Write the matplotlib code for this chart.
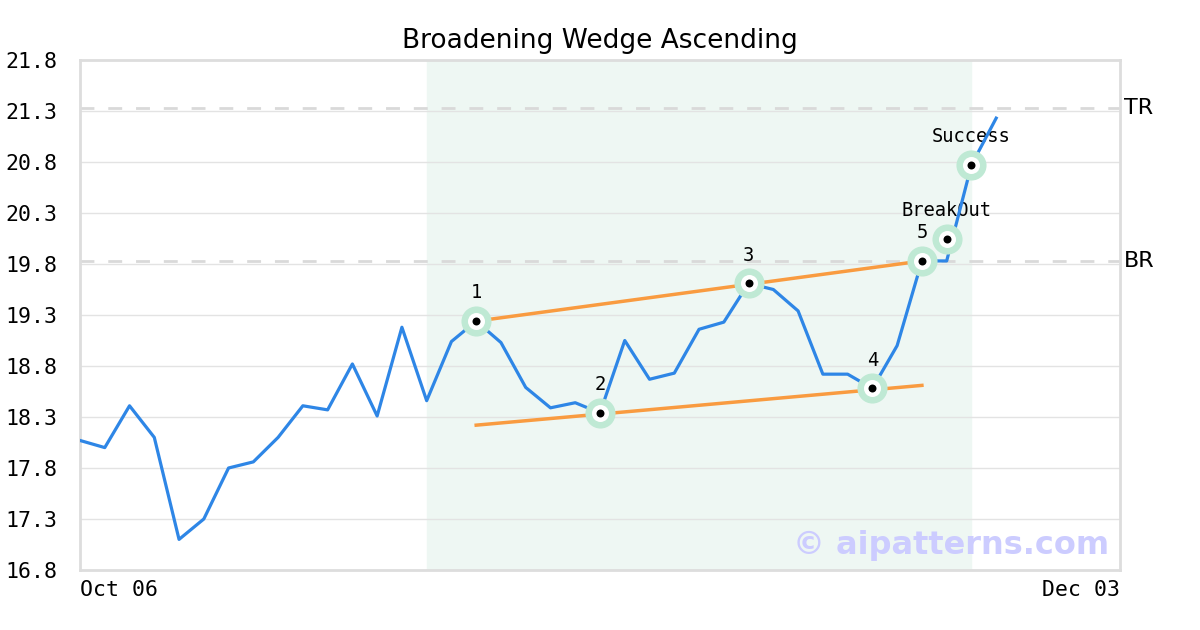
import numpy as np
import matplotlib.pyplot as plt

# price series (one value per trading day, Oct 06 .. Dec 03 axis spans 43 slots)
prices = [18.07, 18.00, 18.41, 18.10, 17.10, 17.30, 17.80, 17.86, 18.10, 18.41,
          18.37, 18.82, 18.31, 19.18, 18.46, 19.04, 19.24, 19.03, 18.59, 18.39,
          18.44, 18.34, 19.05, 18.67, 18.73, 19.16, 19.23, 19.61, 19.55, 19.34,
          18.72, 18.72, 18.58, 19.00, 19.83, 19.83, 20.77, 21.23]
n_slots = 43
date_labels = ["Oct 06", "Dec 03"]

# pattern points
pivot_idx = [16, 21, 27, 32, 34]
pivot_labels = ["1", "2", "3", "4", "5"]
breakout_idx, breakout_val = 35, 20.05
success_idx = 36

# trend lines (start idx, start val, end idx, end val)
upper_line = [(16, 19.24), (34, 19.83)]
lower_line = [(16, 18.22), (34, 18.61)]

shade_start, shade_end = 14, 36
tr_level = 21.33
br_level = 19.83
yticks = [16.8, 17.3, 17.8, 18.3, 18.8, 19.3, 19.8, 20.3, 20.8, 21.3, 21.8]

mono = "DejaVu Sans Mono"

fig = plt.figure(figsize=(12, 6.3), dpi=100)
ax = fig.add_axes([80/1200, 60/630, 1040/1200, 510/630])

x = np.arange(len(prices))
ax.axvspan(shade_start, shade_end, color="#eef7f3", zorder=0)

ax.set_ylim(16.8, 21.8)
ax.set_xlim(0, n_slots - 1)
ax.set_yticks(yticks)
ax.set_yticklabels([f"{v:.1f}" for v in yticks], family=mono, fontsize=15.5)
ax.yaxis.grid(True, color="#e3e3e3", lw=1, zorder=1)
ax.set_axisbelow(True)
ax.tick_params(axis="y", length=0, pad=16)
ax.tick_params(axis="x", length=0)
ax.set_xticks([])

for s in ax.spines.values():
    s.set_color("#dddddd")
    s.set_linewidth(2)

ax.axhline(tr_level, color="#d9d9d9", lw=2, ls=(0, (5, 5)), zorder=2)
ax.axhline(br_level, color="#d9d9d9", lw=2, ls=(0, (5, 5)), zorder=2)
ax.text(1.004, tr_level, "TR", transform=ax.get_yaxis_transform(), fontsize=16,
        va="center", ha="left")
ax.text(1.004, br_level, "BR", transform=ax.get_yaxis_transform(), fontsize=16,
        va="center", ha="left")

for seg in (upper_line, lower_line):
    ax.plot([seg[0][0], seg[1][0]], [seg[0][1], seg[1][1]], color="#f99b40",
            lw=2.5, zorder=3)

ax.plot(x, prices, color="#2e86e6", lw=2.3, zorder=4)


def marker(xi, yi):
    ax.scatter([xi], [yi], s=470, color="#bfe9d4", zorder=5, linewidths=0)
    ax.scatter([xi], [yi], s=150, color="white", zorder=6, linewidths=0)
    ax.scatter([xi], [yi], s=33, color="black", zorder=7, linewidths=0)


for i, lab in zip(pivot_idx, pivot_labels):
    marker(i, prices[i])
    ax.annotate(lab, (i, prices[i]), xytext=(0, 13.5), textcoords="offset points",
                ha="center", va="bottom", family=mono, fontsize=13.5)

marker(breakout_idx, breakout_val)
ax.annotate("BreakOut", (breakout_idx, breakout_val), xytext=(0, 13.5),
            textcoords="offset points", ha="center", va="bottom", family=mono,
            fontsize=13.5)
marker(success_idx, prices[success_idx])
ax.annotate("Success", (success_idx, prices[success_idx]), xytext=(0, 13.5),
            textcoords="offset points", ha="center", va="bottom", family=mono,
            fontsize=13.5)

ax.text(0, -0.02, date_labels[0], transform=ax.transAxes, ha="left", va="top",
        family=mono, fontsize=15.5)
ax.text(1, -0.02, date_labels[1], transform=ax.transAxes, ha="right", va="top",
        family=mono, fontsize=15.5)

ax.text(0.99, 0.018, "\u00a9 aipatterns.com", transform=ax.transAxes, ha="right",
        va="bottom", fontsize=23, fontweight="bold", color="#ccccff", zorder=8)

ax.set_title("Broadening Wedge Ascending", fontsize=19, pad=9)

fig.savefig("out.png", dpi=100)
